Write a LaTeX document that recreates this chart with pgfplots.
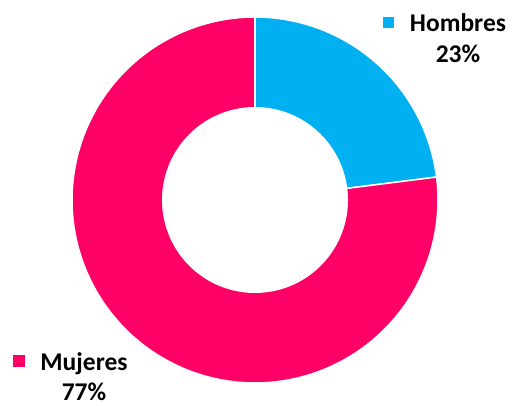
\documentclass[border=0pt]{standalone}
\usepackage{pgfplots}
\pgfplotsset{compat=1.18}
\usepackage{fontspec}
\setmainfont{Carlito}
\definecolor{hom}{HTML}{00B0F0}
\definecolor{muj}{HTML}{FF0066}
\def\cx{255}
\def\cy{206}
\def\Ro{183}
\def\Ri{93}
\def\vhom{23}
\def\vmuj{77}
\begin{document}
\begin{tikzpicture}
\begin{axis}[
  scale only axis, width=512pt, height=406pt,
  xmin=0, xmax=512, ymin=0, ymax=406,
  hide axis, clip=false,
]
\path (rel axis cs:0,0) rectangle (rel axis cs:1,1);
\pgfmathsetmacro{\aA}{90}
\pgfmathsetmacro{\aB}{90-\vhom*3.6}
\pgfmathsetmacro{\aC}{\aB-\vmuj*3.6}
\addplot[fill=hom, draw=white, line width=1.5pt, domain=\aA:\aB, samples=80]
  ({\cx+\Ro*cos(x)},{\cy+\Ro*sin(x)}) -- (axis cs:\cx,\cy) -- cycle;
\addplot[fill=muj, draw=white, line width=1.5pt, domain=\aB:\aC, samples=200]
  ({\cx+\Ro*cos(x)},{\cy+\Ro*sin(x)}) -- (axis cs:\cx,\cy) -- cycle;
\addplot[fill=white, draw=none, domain=0:360, samples=150]
  ({\cx+\Ri*cos(x)},{\cy+\Ri*sin(x)}) -- cycle;
\addplot[only marks, mark=square*, mark size=5.2pt, color=hom] coordinates {(388,384)};
\addplot[only marks, mark=square*, mark size=5.5pt, color=muj] coordinates {(18.5,45)};
\tikzset{lab/.style={anchor=base, inner sep=0pt, font=\fontsize{25.5}{30}\selectfont\bfseries}}
\node[lab] at (axis cs:458,374) {Hombres};
\node[lab] at (axis cs:458,343) {\vhom\%};
\node[lab] at (axis cs:84,35) {Mujeres};
\node[lab] at (axis cs:84,5) {\vmuj\%};
\end{axis}
\end{tikzpicture}
\end{document}
